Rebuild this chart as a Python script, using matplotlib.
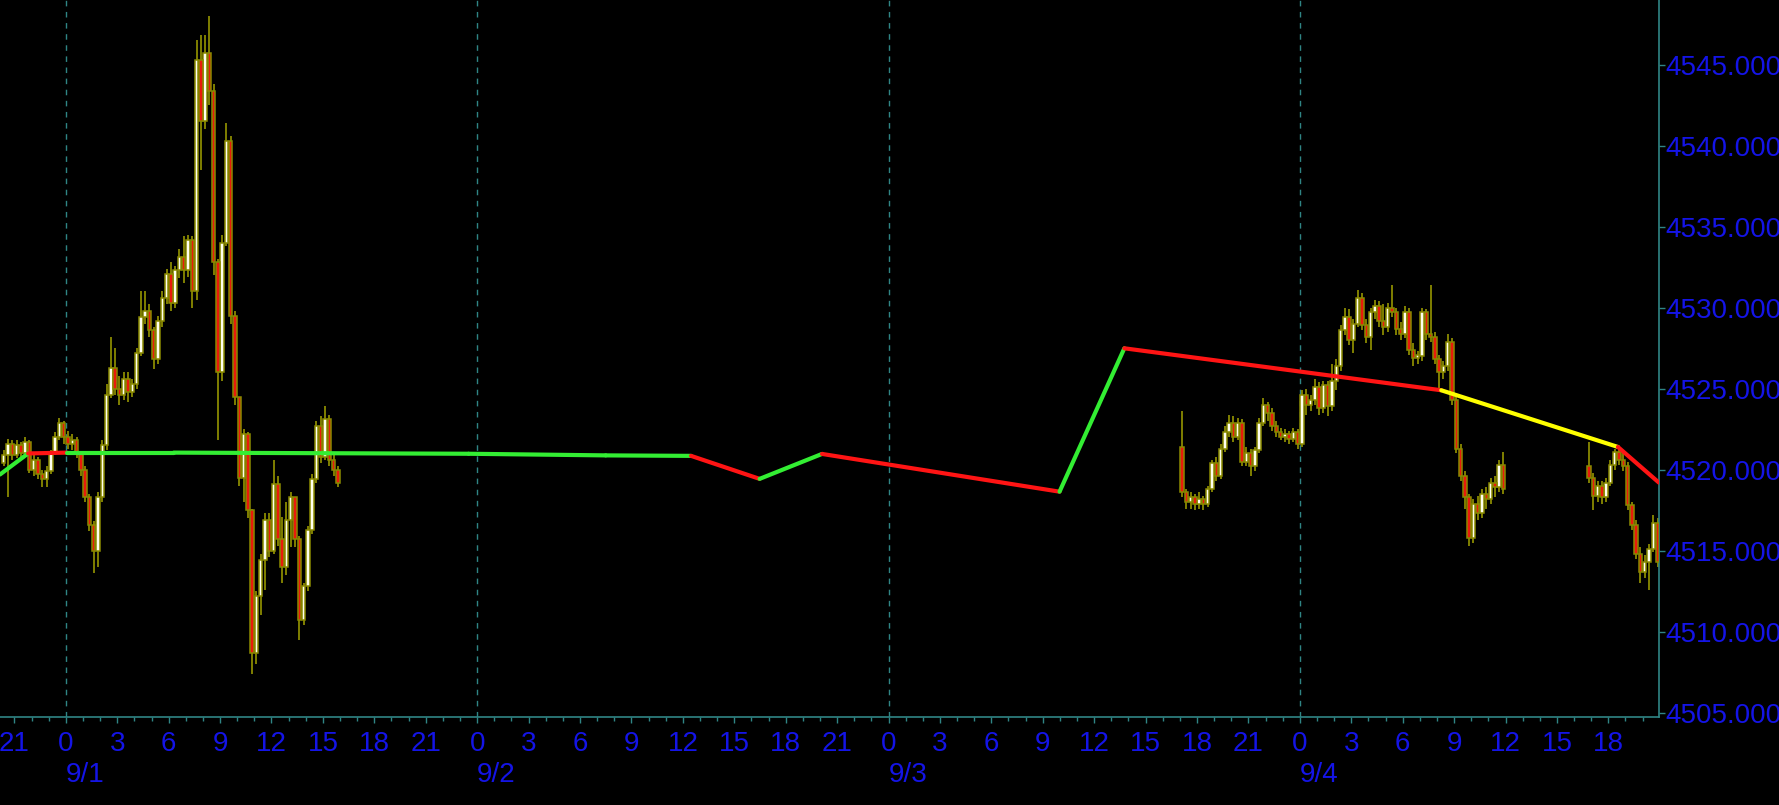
import numpy as np
import matplotlib
matplotlib.use("Agg")
import matplotlib.pyplot as plt
from matplotlib.ticker import MultipleLocator, FuncFormatter

# ---- data (x = hours since 9/1 00:00, 15-minute candles) ----
slot = 0.25

seg1_start = -3.75          # 8/31 20:15
seg1_open0 = 4520.4
seg1_close = [
    4520.9, 4521.6, 4520.9, 4521.5, 4521.0, 4521.7, 4520.0, 4520.6, 4519.7, 4519.4,
    4519.9, 4521.0, 4522.0, 4522.9, 4522.0, 4521.6, 4521.8, 4521.0, 4520.0, 4518.3,
    4516.6, 4515.0, 4518.3, 4521.5, 4524.6, 4526.3, 4525.0, 4524.6, 4525.6, 4524.8,
    4525.3, 4527.2, 4529.4, 4529.8, 4528.6, 4526.8, 4529.2, 4530.6, 4532.1, 4530.3,
    4532.3, 4533.1, 4532.3, 4534.2, 4531.0, 4545.3, 4541.5, 4545.7, 4543.4, 4532.8,
    4526.0, 4534.0, 4540.3, 4529.5, 4524.5, 4519.5, 4522.2, 4517.5, 4508.7, 4512.2,
    4514.4, 4516.9, 4515.0, 4519.1, 4515.7, 4514.0, 4516.9, 4518.3, 4515.7, 4510.7,
    4512.8, 4516.3, 4519.4, 4522.7, 4520.8, 4523.1, 4520.6, 4520.0, 4519.2]
seg1_high = [
    4521.2, 4521.9, 4521.8, 4521.8, 4521.7, 4522.0, 4521.8, 4520.9, 4520.8, 4520.0,
    4520.2, 4521.2, 4522.3, 4523.2, 4523.0, 4522.4, 4522.2, 4522.0, 4521.1, 4520.2,
    4518.5, 4516.8, 4518.6, 4521.8, 4525.3, 4528.2, 4527.5, 4525.8, 4526.0, 4526.0,
    4525.6, 4527.5, 4531.0, 4531.0, 4530.2, 4528.8, 4529.5, 4531.0, 4532.4, 4532.8,
    4532.6, 4533.6, 4534.4, 4534.5, 4534.4, 4546.5, 4546.8, 4546.8, 4548.0, 4543.8,
    4533.0, 4534.5, 4541.4, 4540.6, 4529.8, 4523.1, 4522.5, 4522.3, 4517.6, 4512.5,
    4514.8, 4517.3, 4517.3, 4520.6, 4519.6, 4517.1, 4518.0, 4518.6, 4518.2, 4515.9,
    4513.0, 4516.5, 4519.7, 4523.0, 4523.3, 4523.9, 4523.4, 4521.0, 4520.2]
seg1_low = [
    4520.2, 4518.3, 4520.6, 4520.7, 4520.8, 4520.9, 4519.8, 4519.6, 4519.4, 4518.9,
    4518.9, 4519.7, 4520.9, 4521.8, 4521.6, 4521.3, 4521.2, 4520.7, 4519.6, 4518.0,
    4516.2, 4513.6, 4514.0, 4518.0, 4521.2, 4524.4, 4524.6, 4524.0, 4524.3, 4524.2,
    4524.5, 4525.0, 4527.0, 4529.0, 4528.2, 4526.2, 4526.5, 4528.8, 4530.2, 4529.8,
    4530.0, 4531.8, 4531.5, 4531.9, 4530.0, 4530.5, 4538.5, 4541.0, 4542.5, 4532.0,
    4521.8, 4525.5, 4533.8, 4529.0, 4524.0, 4519.0, 4518.0, 4517.0, 4507.4, 4508.0,
    4511.0, 4512.6, 4514.6, 4514.8, 4515.3, 4513.0, 4513.5, 4515.2, 4515.2, 4509.5,
    4510.4, 4512.5, 4516.0, 4519.2, 4520.4, 4520.6, 4520.2, 4519.6, 4518.9]

seg2_start = 65.0           # 9/3 17:00
seg2_open0 = 4521.4
seg2_close = [
    4518.6, 4518.0, 4518.3, 4517.9, 4518.2, 4517.9, 4518.8, 4520.4, 4519.6, 4521.3,
    4522.3, 4522.9, 4522.0, 4522.9, 4520.5, 4521.0, 4520.2, 4521.2, 4522.9, 4524.0,
    4523.5, 4522.7, 4522.3, 4522.0, 4522.2, 4521.9, 4522.3, 4521.6, 4524.6, 4524.0,
    4524.3, 4525.1, 4523.8, 4525.2, 4523.9, 4525.5, 4526.4, 4528.6, 4529.4, 4528.0,
    4529.0, 4530.6, 4528.9, 4528.2, 4529.7, 4530.1, 4529.2, 4528.8, 4530.0, 4529.7,
    4528.7, 4528.4, 4529.7, 4527.4, 4526.9, 4527.0, 4529.7, 4528.4, 4528.2, 4526.8,
    4526.0, 4526.4, 4527.9, 4524.3, 4521.3, 4519.6, 4518.3, 4515.8, 4517.9, 4517.3,
    4518.5, 4518.2, 4519.2, 4518.9, 4520.3, 4518.8]
seg2_high = [
    4523.6, 4518.8, 4518.6, 4518.5, 4518.6, 4518.4, 4519.0, 4520.6, 4520.8, 4521.6,
    4522.7, 4523.4, 4523.3, 4523.2, 4523.1, 4521.4, 4521.3, 4521.4, 4523.2, 4524.4,
    4524.2, 4523.8, 4523.0, 4522.6, 4522.5, 4522.4, 4522.6, 4522.5, 4524.9, 4525.0,
    4524.6, 4525.6, 4525.4, 4525.5, 4525.5, 4526.5, 4526.8, 4528.9, 4530.0, 4529.9,
    4529.3, 4531.1, 4530.9, 4529.3, 4530.0, 4530.5, 4530.4, 4530.2, 4530.3, 4531.4,
    4530.0, 4529.1, 4530.1, 4530.0, 4527.8, 4527.3, 4530.0, 4529.9, 4531.4, 4528.5,
    4527.1, 4526.7, 4528.4, 4528.1, 4524.5, 4521.6, 4519.9, 4518.5, 4518.2, 4518.4,
    4518.8, 4518.9, 4519.5, 4519.6, 4520.6, 4521.1]
seg2_low = [
    4518.3, 4517.6, 4517.6, 4517.5, 4517.6, 4517.5, 4517.7, 4518.6, 4519.3, 4519.4,
    4521.1, 4522.0, 4521.7, 4521.8, 4520.2, 4520.2, 4519.6, 4519.9, 4521.0, 4522.7,
    4523.0, 4522.4, 4522.0, 4521.8, 4521.7, 4521.6, 4521.7, 4521.3, 4521.4, 4523.4,
    4523.6, 4524.0, 4523.4, 4523.5, 4523.3, 4523.6, 4524.9, 4526.1, 4528.3, 4527.7,
    4527.2, 4528.8, 4528.6, 4527.8, 4527.4, 4529.3, 4528.8, 4528.3, 4528.5, 4529.4,
    4528.3, 4528.0, 4528.1, 4527.1, 4526.4, 4526.5, 4526.7, 4528.0, 4527.9, 4526.5,
    4524.9, 4525.6, 4526.1, 4524.0, 4521.0, 4519.3, 4517.6, 4515.3, 4515.5, 4516.9,
    4517.0, 4517.6, 4517.9, 4518.3, 4518.6, 4518.5]

seg3_start = 88.75          # 9/4 16:45
seg3_open0 = 4520.2
seg3_close = [
    4519.5, 4518.4, 4519.0, 4518.3, 4519.2, 4520.3, 4521.1, 4520.6, 4520.2, 4517.8,
    4516.6, 4514.8, 4513.7, 4514.3, 4515.1, 4516.7, 4514.3]
seg3_high = [
    4521.7, 4519.8, 4519.3, 4519.3, 4519.5, 4520.6, 4521.3, 4521.4, 4521.0, 4520.5,
    4518.0, 4516.9, 4515.2, 4514.7, 4515.4, 4517.2, 4517.0]
seg3_low = [
    4519.2, 4517.5, 4518.0, 4517.9, 4518.0, 4519.0, 4520.0, 4520.3, 4519.9, 4517.5,
    4516.3, 4514.5, 4513.0, 4513.3, 4512.6, 4514.9, 4514.0]

# indicator line: vertices and the colour of each segment that follows
line_hours = [-3.84, -2.2, 0.05, 6.3, 23.5, 31.5, 36.48, 40.48, 44.12, 57.98,
              61.76, 80.25, 90.56, 92.95]
line_prices = [4519.7, 4521.0, 4521.05, 4521.05, 4520.98, 4520.88, 4520.85,
               4519.43, 4520.97, 4518.64, 4527.49, 4524.9, 4521.4, 4519.2]
line_colors = ["g", "r", "g", "g", "g", "g", "r", "g", "r", "g", "r", "y", "r"]

day_hours = [0, 24, 48, 72]
day_labels = ["9/1", "9/2", "9/3", "9/4"]

# ---- style ----
BG = "black"
AXIS = "#2f8585"
BLUE = "#1414e6"
WICK = "#8a8a00"
UP = "#fffff0"
DOWN = "#e81a0c"
LINE_COL = {"g": "#33ee33", "r": "#ff1414", "y": "#ffff00"}
FONT = ["Liberation Sans Narrow", "Liberation Sans", "DejaVu Sans"]


def draw_candles(ax, start, open0, closes, highs, lows):
    closes = np.array(closes)
    opens = np.concatenate([[open0], closes[:-1]])
    x = start + slot / 2 + slot * np.arange(len(closes))
    ax.vlines(x, lows, highs, color=WICK, lw=1.3, zorder=2)
    up = closes >= opens
    bottom = np.minimum(opens, closes)
    height = np.maximum(np.abs(closes - opens), 0.15)
    ax.bar(x[up], height[up], bottom=bottom[up], width=0.2, color=UP,
           edgecolor=WICK, linewidth=1.1, zorder=3)
    ax.bar(x[~up], height[~up], bottom=bottom[~up], width=0.2, color=DOWN,
           edgecolor=WICK, linewidth=1.1, zorder=3)


fig = plt.figure(figsize=(17.79, 8.05), dpi=100, facecolor=BG)
ax = fig.add_axes([0.0, 0.1093, 0.9324, 0.8907], facecolor=BG)

for h in day_hours:
    ax.axvline(h, color=AXIS, lw=1.0, ls=(0, (4, 4)), zorder=1)

draw_candles(ax, seg1_start, seg1_open0, seg1_close, seg1_high, seg1_low)
draw_candles(ax, seg2_start, seg2_open0, seg2_close, seg2_high, seg2_low)
draw_candles(ax, seg3_start, seg3_open0, seg3_close, seg3_high, seg3_low)

for i, c in enumerate(line_colors):
    ax.plot(line_hours[i:i + 2], line_prices[i:i + 2], color=LINE_COL[c],
            lw=3.0, solid_capstyle="round", zorder=5)

ax.set_xlim(-3.84, 92.94)
ax.set_ylim(4504.73, 4548.99)

# axes frame
for side in ["top", "left"]:
    ax.spines[side].set_visible(False)
for side in ["right", "bottom"]:
    ax.spines[side].set_color(AXIS)
    ax.spines[side].set_linewidth(1.2)

# y axis on the right
ax.yaxis.tick_right()
ax.set_yticks(np.arange(4505, 4546, 5))
ax.yaxis.set_major_formatter(FuncFormatter(lambda v, p: f"{v:.4f}"))
ax.tick_params(axis="y", colors=AXIS, labelcolor=BLUE, length=4, width=1, pad=1)

# x axis: hour of day every 3 h, small ticks every hour
ax.xaxis.set_major_locator(MultipleLocator(3))
ax.xaxis.set_minor_locator(MultipleLocator(1))
ax.xaxis.set_major_formatter(FuncFormatter(lambda v, p: f"{int(round(v)) % 24}"))
ax.tick_params(axis="x", which="major", colors=AXIS, labelcolor=BLUE,
               length=4, width=1, pad=6)
ax.tick_params(axis="x", which="minor", colors=AXIS, length=3, width=1)

for lab in ax.get_xticklabels() + ax.get_yticklabels():
    lab.set_fontfamily(FONT)
    lab.set_fontsize(20)

for h, txt in zip(day_hours, day_labels):
    ax.text(h, -0.081, txt, transform=ax.get_xaxis_transform(), color=BLUE,
            fontsize=20, family=FONT, ha="left", va="center")

fig.savefig("out.png", dpi=100, facecolor=BG)
